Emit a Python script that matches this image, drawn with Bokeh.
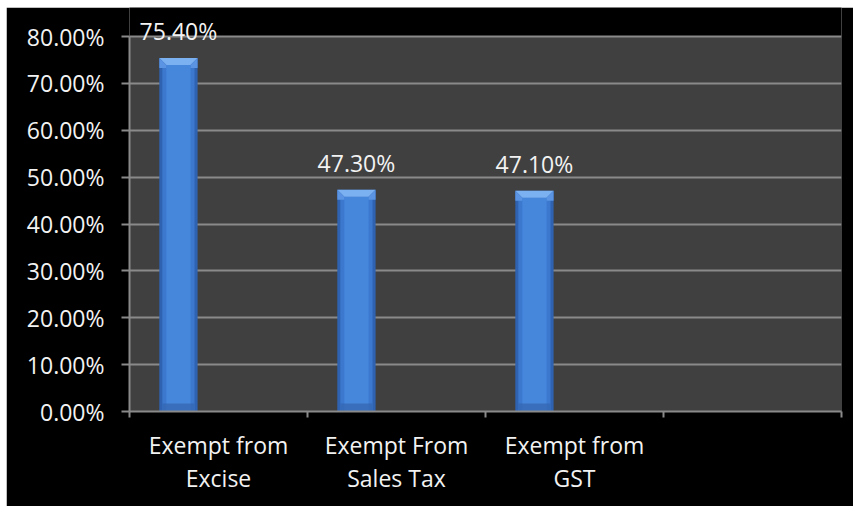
from bokeh.plotting import figure
from bokeh.models import (ColumnDataSource, FixedTicker, NumeralTickFormatter,
                          Label, Range1d, Spacer)
from bokeh.layouts import column, row
from bokeh.embed import file_html
from bokeh.resources import INLINE

# ---- data ----
categories = ["Exempt from\nExcise", "Exempt From\nSales Tax", "Exempt from\nGST", ""]
shares = [0.754, 0.473, 0.471]
share_labels = ["75.40%", "47.30%", "47.10%"]
y_ticks = [0.0, 0.1, 0.2, 0.3, 0.4, 0.5, 0.6, 0.7, 0.8]

FONT = "Open Sans"
FONT_SIZE = "23px"
TEXT = "#f2f2f2"
GRID = "#8a8a8a"

PLOT_W, PLOT_H = 712, 375   # grey plotting area
HEADROOM = 29               # black strip above it, room for value labels
Y_MAX = 0.8
n = len(categories)
px_x = 1.0 / (PLOT_W / n)   # data units per pixel, x
px_y = Y_MAX / PLOT_H       # data units per pixel, y

p = figure(frame_width=PLOT_W, frame_height=PLOT_H + HEADROOM,
           x_range=Range1d(0, n), y_range=Range1d(0, Y_MAX + HEADROOM * px_y),
           output_backend="svg", toolbar_location=None,
           min_border_left=123, min_border_right=12,
           min_border_top=0, min_border_bottom=95)
p.background_fill_color = "#000000"
p.border_fill_color = "#000000"
p.outline_line_color = None

# grey plotting area below the 80% line
p.quad(left=[0], right=[n], bottom=[0], top=[Y_MAX],
       fill_color="#404040", line_color=None, level="image")

# bars: first slot of a three-wide group in each category
bar_w = 0.215
offset = -0.225
xs = [i + 0.5 + offset for i in range(len(shares))]
src = ColumnDataSource(dict(x=xs, top=shares))

bev = 7  # bevel size in pixels
edge = 3
p.vbar(x="x", top="top", width=bar_w, source=src,
       fill_color="#2f62b0", line_color=None)
inner = ColumnDataSource(dict(x=xs, top=[v - bev * px_y for v in shares]))
p.vbar(x="x", top="top", width=bar_w - 2 * edge * px_x, source=inner,
       fill_color="#3b78ce", line_color=None)
p.vbar(x="x", top="top", width=bar_w - 2 * (edge + 4) * px_x, source=inner,
       fill_color="#4687dc", line_color=None)
# darker base strip
base = ColumnDataSource(dict(x=xs, top=[8 * px_y] * len(xs)))
p.vbar(x="x", top="top", width=bar_w - 2 * edge * px_x, source=base,
       fill_color="#3468b4", line_color=None, fill_alpha=0.8)

# top bevel: lighter face plus two side facets
tops_x, tops_y, sides_x, sides_y = [], [], [], []
for cx, v in zip(xs, shares):
    l, r = cx - bar_w / 2, cx + bar_w / 2
    li, ri = l + bev * px_x, r - bev * px_x
    vb = v - bev * px_y
    tops_x.append([l, r, ri, li])
    tops_y.append([v, v, vb, vb])
    sides_x += [[l, li, li, l], [r, ri, ri, r]]
    sides_y += [[v, vb, vb - 3 * px_y, vb - 3 * px_y], [v, vb, vb - 3 * px_y, vb - 3 * px_y]]
p.patches(tops_x, tops_y, fill_color="#7cb1f1", line_color=None)
p.patches(sides_x, sides_y, fill_color="#5a94e2", line_color=None)

# value labels above the bars
for cx, v, t in zip(xs, shares, share_labels):
    p.add_layout(Label(x=cx, y=v, text=t, text_align="center",
                       text_baseline="middle", y_offset=27,
                       text_font=FONT, text_font_size=FONT_SIZE, text_color=TEXT))

# y axis
p.yaxis.bounds = (0, Y_MAX)
p.yaxis.ticker = FixedTicker(ticks=y_ticks)
p.yaxis.formatter = NumeralTickFormatter(format="0.00%")
p.yaxis.major_label_text_font = FONT
p.yaxis.major_label_text_font_size = FONT_SIZE
p.yaxis.major_label_text_color = TEXT
p.yaxis.major_label_standoff = 17
p.yaxis.axis_line_color = GRID
p.yaxis.axis_line_width = 2
p.yaxis.major_tick_line_color = GRID
p.yaxis.major_tick_line_width = 2
p.yaxis.major_tick_in = 0
p.yaxis.major_tick_out = 8
p.yaxis.minor_tick_line_color = None

# x axis: labels at slot centres, tick marks at slot boundaries
centers = [i + 0.5 for i in range(n)]
p.xaxis.ticker = FixedTicker(ticks=centers, minor_ticks=list(range(n + 1)))
p.xaxis.major_label_overrides = {c: t for c, t in zip(centers, categories)}
p.xaxis.major_label_text_font = FONT
p.xaxis.major_label_text_font_size = FONT_SIZE
p.xaxis.major_label_text_color = TEXT
p.xaxis.major_label_text_line_height = 1.04
p.xaxis.major_label_standoff = 11
p.xaxis.axis_line_color = GRID
p.xaxis.axis_line_width = 2
p.xaxis.major_tick_line_color = None
p.xaxis.minor_tick_line_color = GRID
p.xaxis.minor_tick_line_width = 2
p.xaxis.minor_tick_in = 0
p.xaxis.minor_tick_out = 6

p.xgrid.grid_line_color = None
p.ygrid.grid_line_color = GRID
p.ygrid.grid_line_width = 2
p.ygrid.level = "underlay"

layout = column(Spacer(height=7),
                row(Spacer(width=6), p))

with open("out.html", "w") as f:
    f.write(file_html(layout, INLINE))
